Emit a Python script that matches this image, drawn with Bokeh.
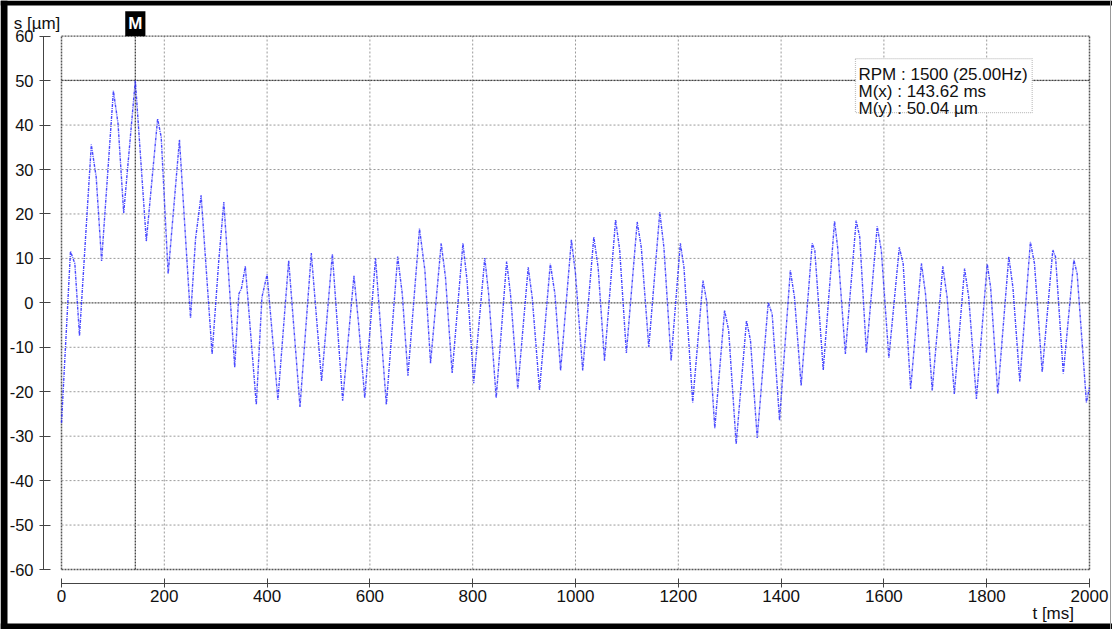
from bokeh.plotting import figure
from bokeh.models import FixedTicker, Label, BoxAnnotation, Range1d
from bokeh.embed import file_html
from bokeh.resources import INLINE

# ---- data ----
t_ms = [0, 17.5, 26, 35, 58, 67.5, 78, 101, 110, 121, 143.62, 165, 187, 194, 207.5,
        229.5, 251, 260.8, 271.6, 293, 306, 315.8, 337, 345, 350, 357.6, 379, 390,
        400, 421, 442, 464, 486, 506, 527, 547, 569, 578, 590, 611, 617, 632, 654,
        663, 674, 696.5, 707, 718, 738.7, 747, 760, 781, 789, 802, 823.5, 831, 845.7,
        866, 873.5, 887.7, 908, 915.7, 930, 951, 960, 971, 992, 1000, 1014, 1035.6,
        1044, 1056.4, 1078, 1086, 1099, 1120, 1128, 1142.6, 1164, 1172, 1186, 1204,
        1211, 1228, 1248, 1255, 1271, 1290, 1298, 1312.6, 1332.7, 1340.5, 1353.5,
        1375, 1382.6, 1397, 1418, 1426, 1439, 1460.5, 1465.6, 1482, 1504, 1510, 1525,
        1546, 1553, 1566, 1587, 1595, 1609.6, 1630, 1637.5, 1652, 1673, 1681, 1694,
        1714.6, 1723, 1737, 1757, 1765, 1780, 1801, 1807.6, 1821.6, 1843, 1851,
        1864.4, 1885, 1893, 1908, 1928.6, 1934, 1949, 1969.6, 1976, 1994, 2000]
s_um = [-27, 11.6, 8.8, -7.4, 35.6, 28.3, 9.4, 47.7, 40.3, 20.2, 50.04, 13.9, 41.4, 37.3, 6.5,
        36.7, -3.4, 14.4, 24.2, -11.5, 9.5, 22.7, -14.5, 2, 3.2, 8.2, -22.9, 1.3,
        6.4, -21.8, 9.5, -23.4, 11.2, -17.6, 11, -22, 6.1, -4.7, -21.4, 10.1, 0.5, -22.9, 10.4,
        2, -16.4, 16.7, 7.3, -13.6, 13.4, 5.8, -15.8, 13.4, 5, -18.1, 10.1, 2, -21.4,
        9.3, 2, -19.4, 8, 1.3, -19.6, 8.8, 2, -15.2, 14.2, 6.5, -15.2, 14.8,
        8, -13, 18.7, 11.8, -11.3, 18.2, 12.5, -10, 20.4, 12.5, -13, 13.4,
        8, -22.4, 5, 0.5, -28.2, -1.7, -6.2, -31.8, -4, -8.5, -30.4,
        0.1, -2.5, -26.4, 7.3, 1.3, -18.6, 13.4, 11.8, -15.1, 18.4, 12.5, -11.5,
        18.5, 14.8, -11.3, 17.2, 11.8, -12.4, 12.5, 8.8, -19.4, 8.9, 2, -19.7,
        8.2, 1.3, -20.5, 7.7, 1.3, -21.6, 8.8, 3.5, -20.5, 10.4, 3.5,
        -17.7, 13.7, 8.8, -15.6, 11.9, 10.3, -15.9, 9.7, 6.5, -22.4, -19]

x_ticks = [0, 200, 400, 600, 800, 1000, 1200, 1400, 1600, 1800, 2000]
y_ticks = [-60, -50, -40, -30, -20, -10, 0, 10, 20, 30, 40, 50, 60]
y_tick_labels = ["-60", "-50", "-40", "-30", "-20", "-10", "0", "10", "20", "30", "40", "50", "60"]

marker_x = 143.62
marker_y = 50.04
info_lines = ["RPM : 1500 (25.00Hz)", "M(x) : 143.62 ms", "M(y) : 50.04 µm"]
x_title = "t [ms]"
y_title = "s [µm]"

FONT = "Liberation Sans"
W, H = 1112, 629
x_lo, x_hi = x_ticks[0], x_ticks[-1]
y_lo, y_hi = y_ticks[0], y_ticks[-1]

# the frame covers the whole picture; axes sit at fixed places inside it
p = figure(width=W, height=H, output_backend="svg", toolbar_location=None,
           x_range=Range1d(-118.68, 2044.75), y_range=Range1d(-73.50, 68.03),
           min_border_left=0, min_border_right=0, min_border_top=0, min_border_bottom=0)
p.outline_line_color = None
p.grid.visible = False
p.background_fill_color = "white"
p.border_fill_color = "white"

# axes
for ax in (p.xaxis[0], p.yaxis[0]):
    ax.axis_line_color = "#444444"
    ax.major_tick_line_color = "#444444"
    ax.minor_tick_line_color = None
    ax.major_label_text_font = FONT
    ax.major_label_text_color = "#111111"
p.xaxis.ticker = FixedTicker(ticks=x_ticks)
p.xaxis.bounds = (x_lo, x_hi)
p.xaxis.fixed_location = -63.15
p.xaxis.major_tick_in = 5
p.xaxis.major_tick_out = 4
p.xaxis.major_label_standoff = 2
p.xaxis.major_label_text_font_size = "17px"
p.yaxis.ticker = FixedTicker(ticks=y_ticks)
p.yaxis.bounds = (y_lo, y_hi)
p.yaxis.fixed_location = -35
p.yaxis.major_tick_in = 7
p.yaxis.major_tick_out = 4
p.yaxis.major_label_standoff = 6
p.yaxis.major_label_text_font_size = "16.5px"
p.yaxis.major_label_overrides = {v: s for v, s in zip(y_ticks, y_tick_labels)}

# grid (light), inner lines only
inner_x = x_ticks[1:-1]
p.segment(x0=inner_x, y0=[y_lo] * len(inner_x), x1=inner_x, y1=[y_hi] * len(inner_x),
          line_color="#9a9a9a", line_width=1, line_dash="2 2")
inner_y = [v for v in y_ticks[1:-1] if v != 0]
p.segment(x0=[x_lo] * len(inner_y), y0=inner_y, x1=[x_hi] * len(inner_y), y1=inner_y,
          line_color="#9a9a9a", line_width=1, line_dash="2 2")
# dark: frame, zero line, marker lines
p.segment(x0=[x_lo, x_hi], y0=[y_lo, y_lo], x1=[x_lo, x_hi], y1=[y_hi, y_hi],
          line_color="#555555", line_width=1.5, line_dash="2 1")
p.segment(x0=[x_lo, x_lo, x_lo], y0=[y_lo, y_hi, 0], x1=[x_hi, x_hi, x_hi], y1=[y_lo, y_hi, 0],
          line_color="#555555", line_width=1.3, line_dash="2 1")
p.segment(x0=[marker_x, x_lo], y0=[y_lo, marker_y], x1=[marker_x, x_hi], y1=[y_hi, marker_y],
          line_color="#444444", line_width=1.3, line_dash="2 1")

# signal
p.line(t_ms, s_um, line_color="#2a2aff", line_width=1.4, line_dash="3 1 1 1", line_alpha=0.85)

# marker tag
p.add_layout(Label(x=marker_x, y=y_hi, text="M", text_align="center", text_baseline="bottom",
                   text_color="white", text_font=FONT, text_font_style="bold", text_font_size="17px",
                   background_fill_color="black", padding=3, y_offset=0))

# info box
p.add_layout(BoxAnnotation(left=1544.7, right=1888.5, top=54.95, bottom=42.8,
                           fill_color="white", fill_alpha=1.0, line_color="#333333",
                           line_width=1.2, line_dash="1 1", level="overlay"))
for txt, yb in zip(info_lines, [51.42, 47.48, 43.65]):
    p.add_layout(Label(x=1550.6, y=yb, text=txt, text_baseline="alphabetic", text_font=FONT,
                       text_font_size="17px", text_color="#111111", level="overlay"))

# axis titles
p.add_layout(Label(x=-93, y=62.8, text=y_title, text_baseline="alphabetic", text_font=FONT,
                   text_font_size="17px", text_color="#111111"))
p.add_layout(Label(x=1889, y=-69.8, text=x_title, text_baseline="alphabetic", text_font=FONT,
                   text_font_size="17px", text_color="#111111"))

# black picture border
for l, r, t, b in [(0, 7, 0, H), (0, W, 0, 5), (0, W, H - 6, H)]:
    p.add_layout(BoxAnnotation(left=l, right=r, top=t, bottom=b, left_units="canvas",
                               right_units="canvas", top_units="canvas", bottom_units="canvas",
                               fill_color="black", fill_alpha=1.0, line_color=None, level="overlay"))
p.add_layout(BoxAnnotation(left=1109.5, right=1110.5, top=0, bottom=H, left_units="canvas",
                           right_units="canvas", top_units="canvas", bottom_units="canvas",
                           fill_color="#999999", fill_alpha=1.0, line_color=None, level="overlay"))

open("out.html", "w").write(file_html(p, INLINE))
